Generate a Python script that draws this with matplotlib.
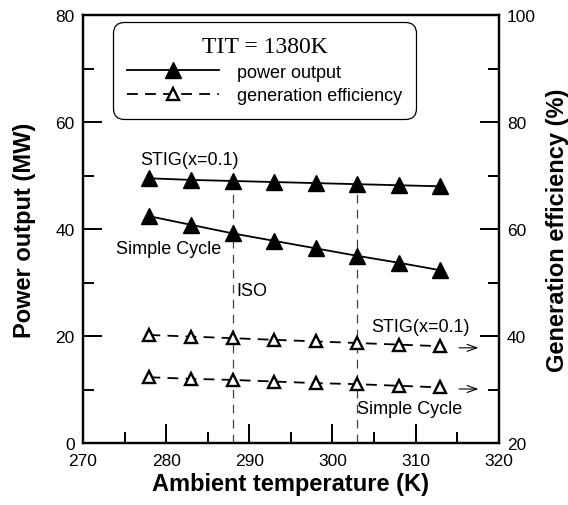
import numpy as np
import matplotlib.pyplot as plt

plt.rcParams['font.family'] = ['Liberation Sans', 'DejaVu Sans']

temp = [278, 283, 288, 293, 298, 303, 308, 313]
power_stig = [49.5, 49.2, 49.0, 48.8, 48.6, 48.4, 48.2, 48.0]
power_simple = [42.4, 40.8, 39.2, 37.8, 36.4, 35.0, 33.7, 32.3]
eff_stig = [40.2, 39.9, 39.6, 39.3, 39.0, 38.7, 38.4, 38.1]
eff_simple = [32.3, 32.0, 31.8, 31.5, 31.2, 31.0, 30.7, 30.4]
iso_temps = [288, 303]

fig = plt.figure(figsize=(5.68, 5.06), dpi=100)
ax = fig.add_axes([0.146, 0.1225, 0.732, 0.8455])
ax2 = ax.twinx()

# power output (left axis)
l1, = ax.plot(temp, power_stig, '-', color='black', lw=1.3, marker='^', ms=11,
              mfc='black', mec='black')
ax.plot(temp, power_simple, '-', color='black', lw=1.3, marker='^', ms=11,
        mfc='black', mec='black')

# efficiency (right axis)
l2, = ax2.plot(temp, eff_stig, color='black', lw=1.3, ls=(0, (6, 4)), marker='^', ms=9,
               mfc='white', mec='black', mew=1.7)
ax2.plot(temp, eff_simple, color='black', lw=1.3, ls=(0, (6, 4)), marker='^', ms=9,
         mfc='white', mec='black', mew=1.7)

# ISO / 303 K guide lines
for t in iso_temps:
    ax.plot([t, t], [0, 49], color='#444444', lw=0.9, ls=(0, (7, 5)), zorder=1)

ax.set_xlim(270, 320)
ax.set_ylim(0, 80)
ax2.set_ylim(20, 100)
ax.set_xticks(np.arange(270, 321, 10))
ax.set_xticks(np.arange(275, 320, 10), minor=True)
ax.set_yticks(np.arange(0, 81, 20))
ax.set_yticks(np.arange(10, 80, 20), minor=True)
ax2.set_yticks(np.arange(20, 101, 20))
ax2.set_yticks(np.arange(30, 100, 20), minor=True)

for a in (ax, ax2):
    a.tick_params(which='major', direction='in', length=14, width=1.4, labelsize=12.5)
    a.tick_params(which='minor', direction='in', length=8, width=1.4)
    for s in a.spines.values():
        s.set_linewidth(1.6)
ax.tick_params(axis='x', pad=7)
ax.tick_params(axis='y', pad=6)
ax2.tick_params(axis='y', pad=6)

ax.set_xlabel('Ambient temperature (K)', fontsize=17, fontweight='bold', labelpad=3)
ax.set_ylabel('Power output (MW)', fontsize=17, fontweight='bold', labelpad=14)
ax2.set_ylabel('Generation efficiency (%)', fontsize=17, fontweight='bold', labelpad=7)

# annotations
ax.text(276.9, 53, 'STIG(x=0.1)', fontsize=13, va='center')
ax.text(274.0, 36.4, 'Simple Cycle', fontsize=13, va='center')
ax.text(288.4, 28.6, 'ISO', fontsize=13, va='center')
ax.text(304.7, 21.7, 'STIG(x=0.1)', fontsize=13, va='center')
ax.text(302.9, 6.5, 'Simple Cycle', fontsize=13, va='center')
arrow = dict(arrowstyle='->,head_length=0.7,head_width=0.25', lw=0.8, color='black')
ax2.annotate('', xy=(317.9, 37.8), xytext=(314.9, 37.8), arrowprops=arrow)
ax2.annotate('', xy=(317.9, 30.1), xytext=(314.9, 30.1), arrowprops=arrow)

leg = ax.legend([l1, l2], ['power output', 'generation efficiency'],
                loc='upper left', bbox_to_anchor=(0.072, 0.984), borderaxespad=0,
                fontsize=13, handlelength=5.1, numpoints=1, fancybox=True, framealpha=1,
                edgecolor='black', borderpad=0.8, labelspacing=0.35, handletextpad=0.95,
                title='TIT = 1380K',
                title_fontproperties={'family': 'Liberation Serif', 'size': 17})
leg.get_frame().set_linewidth(0.9)
leg.get_frame().set_boxstyle('round,pad=0,rounding_size=0.6')
leg.set_zorder(5)

fig.savefig('out.png', dpi=100)
